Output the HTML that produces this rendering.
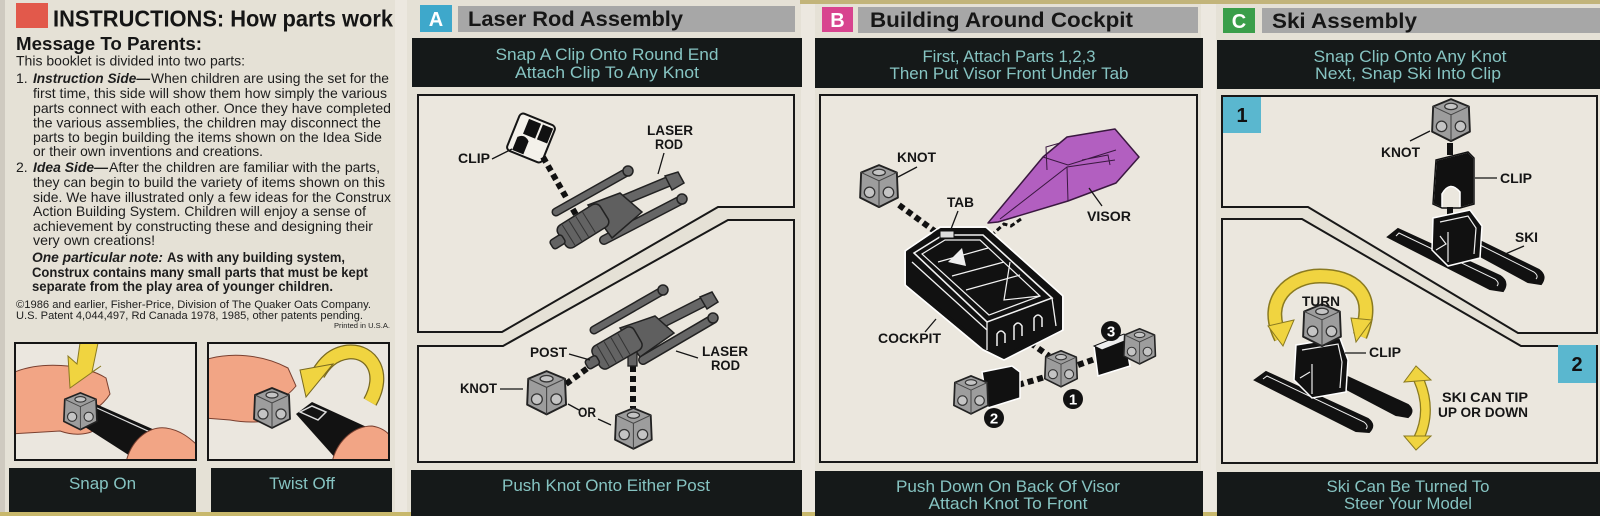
<!DOCTYPE html>
<html><head><meta charset="utf-8">
<style>
html,body{margin:0;padding:0;background:#e5e1d6;}
svg{display:block;}
.t{font-family:"Liberation Sans",Arial,sans-serif;}
.lab{font-family:"Liberation Sans",Arial,sans-serif;font-weight:bold;font-size:13.5px;fill:#151515;}
.teal{font-family:"Liberation Sans",Arial,sans-serif;font-size:17px;fill:#86c4c2;}
.ttl{font-family:"Liberation Sans",Arial,sans-serif;font-weight:bold;font-size:21px;fill:#161616;}
.body{font-family:"Liberation Sans",Arial,sans-serif;font-size:14px;fill:#1d1d1d;}
</style></head>
<body>
<svg width="1600" height="516" viewBox="0 0 1600 516" xmlns="http://www.w3.org/2000/svg">
<!-- page -->
<rect x="0" y="0" width="1600" height="516" fill="#e5e1d6"/>
<rect x="0" y="0" width="5" height="516" fill="#cfcac0"/>
<rect x="395" y="0" width="12" height="516" fill="#ece8e0"/>
<rect x="801" y="0" width="14" height="516" fill="#ece8e0"/>
<rect x="1201" y="0" width="15" height="516" fill="#ece8e0"/>
<rect x="800" y="0" width="800" height="4" fill="#c2b47a"/>
<rect x="0" y="512" width="1600" height="4" fill="#c8b86c"/>

<!-- ================= LEFT PANEL ================= -->
<rect x="16" y="3" width="32" height="25" fill="#e2594b"/>
<text class="t" x="53" y="26.5" font-size="23.5" font-weight="bold" fill="#151515" textLength="340" lengthAdjust="spacingAndGlyphs">INSTRUCTIONS: How parts work</text>
<text class="t" x="16" y="50" font-size="18.5" font-weight="bold" fill="#151515" textLength="186" lengthAdjust="spacingAndGlyphs">Message To Parents:</text>

<text class="body" x="16" y="65.5" textLength="229" lengthAdjust="spacingAndGlyphs">This booklet is divided into two parts:</text>
<text class="body" x="16" y="83">1.</text>
<text class="body" x="33" y="83" font-weight="bold" font-style="italic" textLength="117" lengthAdjust="spacingAndGlyphs">Instruction Side—</text>
<text class="body" x="151" y="83" textLength="238" lengthAdjust="spacingAndGlyphs">When children are using the set for the</text>
<text class="body" x="33" y="98" textLength="354" lengthAdjust="spacingAndGlyphs">first time, this side will show them how simply the various</text>
<text class="body" x="33" y="113" textLength="358" lengthAdjust="spacingAndGlyphs">parts connect with each other. Once they have completed</text>
<text class="body" x="33" y="127.5" textLength="348" lengthAdjust="spacingAndGlyphs">the various assemblies, the children may disconnect the</text>
<text class="body" x="33" y="142" textLength="349" lengthAdjust="spacingAndGlyphs">parts to begin building the items shown on the Idea Side</text>
<text class="body" x="33" y="156" textLength="230" lengthAdjust="spacingAndGlyphs">or their own inventions and creations.</text>
<text class="body" x="16" y="172">2.</text>
<text class="body" x="33" y="172" font-weight="bold" font-style="italic" textLength="75" lengthAdjust="spacingAndGlyphs">Idea Side—</text>
<text class="body" x="109" y="172" textLength="271" lengthAdjust="spacingAndGlyphs">After the children are familiar with the parts,</text>
<text class="body" x="33" y="187" textLength="352" lengthAdjust="spacingAndGlyphs">they can begin to build the variety of items shown on this</text>
<text class="body" x="33" y="202" textLength="358" lengthAdjust="spacingAndGlyphs">side. We have illustrated only a few ideas for the Construx</text>
<text class="body" x="33" y="216" textLength="333" lengthAdjust="spacingAndGlyphs">Action Building System. Children will enjoy a sense of</text>
<text class="body" x="33" y="231" textLength="340" lengthAdjust="spacingAndGlyphs">achievement by constructing these and designing their</text>
<text class="body" x="33" y="245" textLength="122" lengthAdjust="spacingAndGlyphs">very own creations!</text>
<text class="body" x="32" y="262" font-weight="bold" font-style="italic" textLength="131" lengthAdjust="spacingAndGlyphs">One particular note:</text>
<text class="body" x="167" y="262" font-weight="bold" textLength="178" lengthAdjust="spacingAndGlyphs">As with any building system,</text>
<text class="body" x="32" y="277" font-weight="bold" textLength="336" lengthAdjust="spacingAndGlyphs">Construx contains many small parts that must be kept</text>
<text class="body" x="32" y="291" font-weight="bold" textLength="301" lengthAdjust="spacingAndGlyphs">separate from the play area of younger children.</text>
<text class="t" x="16" y="308" font-size="11" fill="#1d1d1d" textLength="355" lengthAdjust="spacingAndGlyphs">©1986 and earlier, Fisher-Price, Division of The Quaker Oats Company.</text>
<text class="t" x="16" y="319" font-size="11" fill="#1d1d1d" textLength="347" lengthAdjust="spacingAndGlyphs">U.S. Patent 4,044,497, Rd Canada 1978, 1985, other patents pending.</text>
<text class="t" x="334" y="328" font-size="7.5" fill="#1d1d1d" textLength="56" lengthAdjust="spacingAndGlyphs">Printed in U.S.A.</text>

<!-- frame 1 : Snap On -->
<clipPath id="cf1"><rect x="16" y="344" width="179" height="115"/></clipPath>
<clipPath id="cf2"><rect x="209" y="344" width="179" height="115"/></clipPath>
<rect x="15" y="343" width="181" height="117" fill="#ebe7df" stroke="#151515" stroke-width="2"/>
<g clip-path="url(#cf1)">
  <path d="M10 374 C40 360 84 364 106 378 L110 394 C104 404 96 408 90 414 L100 424 C94 436 74 436 60 431 L10 434 Z" fill="#f2a585" stroke="#7a4030" stroke-width="1"/>
  <path d="M74 420 L96 404 L200 450 L200 470 L152 470 Z" fill="#121212"/>
  <path d="M82 418 L97 408 L190 450" fill="none" stroke="#ddd" stroke-width="1.2"/>
  <path d="M126 462 C132 438 150 426 166 428 C180 430 190 438 198 446 L198 466 Z" fill="#f2a585" stroke="#7a4030" stroke-width="1"/>
  <g transform="translate(62,391) scale(0.92)">
    <path d="M20 2L37 9L38 33L20 42L2 33L3 9Z" fill="#9d9d9d" stroke="#222" stroke-width="1.8" stroke-linejoin="round"/><path d="M3 9L20 17L37 9M20 17V42" fill="none" stroke="#444" stroke-width="1"/><ellipse cx="20" cy="9" rx="6" ry="3" fill="#c4c4c4" stroke="#333" stroke-width="1.2"/><circle cx="11" cy="28" r="5" fill="#c4c4c4" stroke="#333" stroke-width="1.2"/><circle cx="29" cy="28" r="5" fill="#c4c4c4" stroke="#333" stroke-width="1.2"/>
  </g>
  <path d="M80 343 L98 343 L92 372 L101 366 L70 388 L68 356 L77 364 Z" fill="#f0d440" stroke="#8a7a20" stroke-width="1"/>
</g>
<!-- frame 2 : Twist Off -->
<rect x="208" y="343" width="181" height="117" fill="#ebe7df" stroke="#151515" stroke-width="2"/>
<g clip-path="url(#cf2)">
  <path d="M204 360 C230 352 262 354 288 368 L296 386 C288 396 280 400 274 405 L284 413 C274 424 246 423 230 420 L204 418 Z" fill="#f2a585" stroke="#7a4030" stroke-width="1"/>
  <path d="M296 414 L312 402 L395 440 L395 470 L346 470 Z" fill="#121212"/>
  <path d="M300 412 L312 406 L326 412 L318 420 Z" fill="none" stroke="#ddd" stroke-width="1.5"/>
  <path d="M332 462 C338 438 356 426 372 426 C384 428 390 434 392 440 L392 466 Z" fill="#f2a585" stroke="#7a4030" stroke-width="1"/>
  <g transform="translate(252,386) scale(1.0)">
    <path d="M20 2L37 9L38 33L20 42L2 33L3 9Z" fill="#9d9d9d" stroke="#222" stroke-width="1.8" stroke-linejoin="round"/><path d="M3 9L20 17L37 9M20 17V42" fill="none" stroke="#444" stroke-width="1"/><ellipse cx="20" cy="9" rx="6" ry="3" fill="#c4c4c4" stroke="#333" stroke-width="1.2"/><circle cx="11" cy="28" r="5" fill="#c4c4c4" stroke="#333" stroke-width="1.2"/><circle cx="29" cy="28" r="5" fill="#c4c4c4" stroke="#333" stroke-width="1.2"/>
  </g>
  <path d="M370 402 C386 374 372 350 348 352 C332 354 324 364 318 374" fill="none" stroke="#7a6a20" stroke-width="15"/>
  <path d="M370 402 C386 374 372 350 348 352 C332 354 324 364 318 374" fill="none" stroke="#f0d440" stroke-width="12.5"/>
  <path d="M300 370 L333 364 L306 397 Z" fill="#f0d440" stroke="#7a6a20" stroke-width="1"/>
</g>
<rect x="9" y="468" width="187" height="44" fill="#151919"/>
<rect x="211" y="468" width="181" height="44" fill="#151919"/>
<text class="teal" x="102.5" y="489" text-anchor="middle">Snap On</text>
<text class="teal" x="302" y="489" text-anchor="middle">Twist Off</text>

<!-- ================= PANEL A ================= -->
<rect x="420" y="5" width="32" height="27" fill="#3ea8cb"/>
<text class="t" x="436" y="26" font-size="20" font-weight="bold" fill="#fff" text-anchor="middle">A</text>
<rect x="458" y="6" width="337" height="26" fill="#a7a7a7"/>
<text class="ttl" x="468" y="26" textLength="215" lengthAdjust="spacingAndGlyphs">Laser Rod Assembly</text>
<rect x="412" y="38" width="390" height="49" fill="#151919"/>
<text class="teal" x="607" y="60" text-anchor="middle" textLength="223" lengthAdjust="spacingAndGlyphs">Snap A Clip Onto Round End</text>
<text class="teal" x="607" y="78" text-anchor="middle" textLength="184" lengthAdjust="spacingAndGlyphs">Attach Clip To Any Knot</text>

<path d="M418 95 L794 95 L794 207 L718 207 L502 332 L418 332 Z" fill="#ebe7de" stroke="#181818" stroke-width="2"/>
<path d="M418 346 L503 346 L728 220 L794 220 L794 462 L418 462 Z" fill="#ebe7de" stroke="#181818" stroke-width="2"/>

<!-- A upper drawing -->
<g transform="rotate(22 531 138)">
  <rect x="512" y="118" width="38" height="40" rx="4" fill="#f4f1ea" stroke="#151515" stroke-width="2"/>
  <rect x="522" y="121" width="13" height="16" fill="#111"/>
  <rect x="537" y="121" width="11" height="16" fill="#111"/>
  <path d="M518 156 L518 142 Q524 136 530 142 L530 156 Z" fill="#111"/>
</g>
<line x1="543" y1="157" x2="579" y2="220" stroke="#111" stroke-width="6" stroke-dasharray="6 4"/>
<g stroke="#222" stroke-linecap="round">
  <line x1="556" y1="212" x2="627" y2="172" stroke-width="9"/>
  <line x1="556" y1="212" x2="627" y2="172" stroke="#666" stroke-width="6"/>
  <line x1="585" y1="216" x2="672" y2="180" stroke-width="11"/>
  <line x1="585" y1="216" x2="672" y2="180" stroke="#666" stroke-width="8"/>
  <line x1="604" y1="240" x2="681" y2="200" stroke-width="10"/>
  <line x1="604" y1="240" x2="681" y2="200" stroke="#666" stroke-width="7"/>
</g>
<circle cx="628" cy="171" r="5" fill="#666" stroke="#222" stroke-width="1.5"/>
<path d="M665 176 L678 172 L684 183 L672 190 Z" fill="#666" stroke="#222" stroke-width="1.5"/>
<circle cx="682" cy="199" r="5" fill="#666" stroke="#222" stroke-width="1.5"/>
<path d="M588 205 L620 193 L642 212 L612 238 Z" fill="#5f5f5f" stroke="#222" stroke-width="1.5"/>
<g transform="rotate(-32 583 226)">
  <rect x="558" y="213" width="50" height="26" rx="6" fill="#636363" stroke="#222" stroke-width="1.5"/>
  <line x1="566" y1="214" x2="566" y2="238" stroke="#333"/>
  <line x1="574" y1="214" x2="574" y2="238" stroke="#333"/>
  <line x1="582" y1="214" x2="582" y2="238" stroke="#333"/>
  <line x1="590" y1="214" x2="590" y2="238" stroke="#333"/>
  <rect x="546" y="221" width="14" height="10" rx="3" fill="#636363" stroke="#222" stroke-width="1.5"/>
</g>
<text class="lab" x="458" y="163" textLength="32" lengthAdjust="spacingAndGlyphs">CLIP</text>
<line x1="492" y1="159" x2="512" y2="149" stroke="#151515" stroke-width="1.3"/>
<text class="lab" x="647" y="135" textLength="46" lengthAdjust="spacingAndGlyphs">LASER</text>
<text class="lab" x="655" y="149" textLength="28" lengthAdjust="spacingAndGlyphs">ROD</text>
<line x1="664" y1="153" x2="658" y2="174" stroke="#151515" stroke-width="1.3"/>

<!-- A lower drawing -->
<line x1="566" y1="384" x2="596" y2="362" stroke="#111" stroke-width="6" stroke-dasharray="6 4"/>
<line x1="633" y1="366" x2="633" y2="408" stroke="#111" stroke-width="6" stroke-dasharray="6 4"/>
<g stroke="#222" stroke-linecap="round">
  <line x1="594" y1="330" x2="662" y2="291" stroke-width="9"/>
  <line x1="594" y1="330" x2="662" y2="291" stroke="#666" stroke-width="6"/>
  <line x1="632" y1="338" x2="707" y2="300" stroke-width="11"/>
  <line x1="632" y1="338" x2="707" y2="300" stroke="#666" stroke-width="8"/>
  <line x1="643" y1="360" x2="713" y2="319" stroke-width="10"/>
  <line x1="643" y1="360" x2="713" y2="319" stroke="#666" stroke-width="7"/>
</g>
<circle cx="663" cy="290" r="5" fill="#666" stroke="#222" stroke-width="1.5"/>
<path d="M700 297 L712 292 L718 302 L707 309 Z" fill="#666" stroke="#222" stroke-width="1.5"/>
<circle cx="713" cy="318" r="5" fill="#666" stroke="#222" stroke-width="1.5"/>
<path d="M620 328 L655 316 L674 333 L640 357 Z" fill="#5f5f5f" stroke="#222" stroke-width="1.5"/>
<rect x="628" y="350" width="9" height="16" fill="#636363" stroke="#222" stroke-width="1.3"/>
<g transform="rotate(-30 617 348)">
  <rect x="593" y="335" width="48" height="26" rx="6" fill="#636363" stroke="#222" stroke-width="1.5"/>
  <line x1="601" y1="336" x2="601" y2="360" stroke="#333"/>
  <line x1="609" y1="336" x2="609" y2="360" stroke="#333"/>
  <line x1="617" y1="336" x2="617" y2="360" stroke="#333"/>
  <line x1="625" y1="336" x2="625" y2="360" stroke="#333"/>
  <rect x="582" y="343" width="13" height="10" rx="3" fill="#636363" stroke="#222" stroke-width="1.5"/>
</g>
<g transform="translate(525,369) scale(1.08)">
  <path d="M20 2L37 9L38 33L20 42L2 33L3 9Z" fill="#9d9d9d" stroke="#222" stroke-width="1.8" stroke-linejoin="round"/><path d="M3 9L20 17L37 9M20 17V42" fill="none" stroke="#444" stroke-width="1"/><ellipse cx="20" cy="9" rx="6" ry="3" fill="#c4c4c4" stroke="#333" stroke-width="1.2"/><circle cx="11" cy="28" r="5" fill="#c4c4c4" stroke="#333" stroke-width="1.2"/><circle cx="29" cy="28" r="5" fill="#c4c4c4" stroke="#333" stroke-width="1.2"/>
</g>
<g transform="translate(613,406) scale(1.02)">
  <path d="M20 2L37 9L38 33L20 42L2 33L3 9Z" fill="#9d9d9d" stroke="#222" stroke-width="1.8" stroke-linejoin="round"/><path d="M3 9L20 17L37 9M20 17V42" fill="none" stroke="#444" stroke-width="1"/><ellipse cx="20" cy="9" rx="6" ry="3" fill="#c4c4c4" stroke="#333" stroke-width="1.2"/><circle cx="11" cy="28" r="5" fill="#c4c4c4" stroke="#333" stroke-width="1.2"/><circle cx="29" cy="28" r="5" fill="#c4c4c4" stroke="#333" stroke-width="1.2"/>
</g>
<text class="lab" x="530" y="357" textLength="37" lengthAdjust="spacingAndGlyphs">POST</text>
<line x1="569" y1="354" x2="590" y2="360" stroke="#151515" stroke-width="1.3"/>
<text class="lab" x="702" y="356" textLength="46" lengthAdjust="spacingAndGlyphs">LASER</text>
<text class="lab" x="711" y="370" textLength="29" lengthAdjust="spacingAndGlyphs">ROD</text>
<line x1="676" y1="351" x2="698" y2="358" stroke="#151515" stroke-width="1.3"/>
<text class="lab" x="460" y="393" textLength="37" lengthAdjust="spacingAndGlyphs">KNOT</text>
<line x1="500" y1="389" x2="523" y2="389" stroke="#151515" stroke-width="1.3"/>
<text class="lab" x="578" y="417" textLength="18" lengthAdjust="spacingAndGlyphs">OR</text>
<line x1="568" y1="404" x2="579" y2="410" stroke="#151515" stroke-width="1.3"/>
<line x1="598" y1="419" x2="611" y2="425" stroke="#151515" stroke-width="1.3"/>

<rect x="411" y="470" width="391" height="46" fill="#151919"/>
<text class="teal" x="606" y="491" text-anchor="middle" textLength="208" lengthAdjust="spacingAndGlyphs">Push Knot Onto Either Post</text>

<!-- ================= PANEL B ================= -->
<rect x="822" y="7" width="31" height="25" fill="#d8448f"/>
<text class="t" x="837.5" y="27" font-size="20" font-weight="bold" fill="#fff" text-anchor="middle">B</text>
<rect x="858" y="7" width="340" height="26" fill="#a7a7a7"/>
<text class="ttl" x="870" y="27" textLength="263" lengthAdjust="spacingAndGlyphs">Building Around Cockpit</text>
<rect x="815" y="38" width="388" height="50" fill="#151919"/>
<text class="teal" x="1009" y="62" text-anchor="middle" textLength="173" lengthAdjust="spacingAndGlyphs">First, Attach Parts 1,2,3</text>
<text class="teal" x="1009" y="79" text-anchor="middle" textLength="239" lengthAdjust="spacingAndGlyphs">Then Put Visor Front Under Tab</text>
<rect x="820" y="95" width="377" height="367" fill="#ebe7de" stroke="#181818" stroke-width="2"/>

<!-- dashed connectors -->
<line x1="899" y1="205" x2="944" y2="238" stroke="#111" stroke-width="6" stroke-dasharray="6 4"/>
<line x1="1022" y1="337" x2="1049" y2="356" stroke="#111" stroke-width="6" stroke-dasharray="6 4"/>
<line x1="1018" y1="385" x2="1045" y2="377" stroke="#111" stroke-width="6" stroke-dasharray="6 4"/>
<line x1="1078" y1="365" x2="1098" y2="358" stroke="#111" stroke-width="6" stroke-dasharray="6 4"/>
<path d="M1021 219 L1011 226 L1004 224 L994 233" fill="none" stroke="#111" stroke-width="3" stroke-dasharray="5 3"/>

<!-- cockpit -->
<path d="M908 252 L941 230 L985 230 L1060 297 L1060 329 L1004 357 L984 347 L908 284 Z" fill="#111" stroke="#111" stroke-width="4" stroke-linejoin="round"/>
<path d="M905 251 L940 227 L986 227 L1063 296 L1063 330 L1004 360 L983 350 L905 285 Z" fill="none" stroke="#fff" stroke-width="1.5"/>
<path d="M914 253 L943 235 L983 235 L1052 298 L987 322 Z" fill="none" stroke="#f2f2f2" stroke-width="1.6"/>
<path d="M922 254 L945 240 L980 240 L1040 296 L989 315 Z" fill="none" stroke="#f2f2f2" stroke-width="1.2"/>
<path d="M987 322 L987 350 M912 262 L987 330 M1052 298 L1056 326" fill="none" stroke="#f2f2f2" stroke-width="1.3"/>
<path d="M938 262 L988 248 M952 276 L1004 262 M966 290 L1020 275 M1010 262 L1004 300 L1040 296" fill="none" stroke="#f2f2f2" stroke-width="1.2"/>
<path d="M997 346 V334 Q1001 328 1005 334 V343 M1014 340 V326 Q1018 320 1022 326 V336 M1034 331 V318 Q1038 312 1042 318 V327" fill="none" stroke="#f2f2f2" stroke-width="1.5"/>
<path d="M940 231 L940 238 L954 238 L954 231 Z" fill="#ddd" stroke="#111" stroke-width="1"/>
<path d="M948 262 L962 248 L966 266 Z" fill="#eee"/>

<!-- visor -->
<path d="M988 223 L1043 157 L1067 137 L1115 129 L1139 157 L1116 183 L1068 201 L998 222 Z" fill="#b25fc0" stroke="#3a1840" stroke-width="1.5" stroke-linejoin="round"/>
<path d="M1000 219 L1067 167 L1115 160 M1043 157 L1068 165 L1116 150 M1067 167 L1068 201 M1047 170 L1046 147 L1060 143 M1082 160 L1108 155 L1110 165" fill="none" stroke="#3a1840" stroke-width="1"/>

<!-- knots B -->
<g transform="translate(858,163) scale(1.05)">
  <path d="M20 2L37 9L38 33L20 42L2 33L3 9Z" fill="#9d9d9d" stroke="#222" stroke-width="1.8" stroke-linejoin="round"/><path d="M3 9L20 17L37 9M20 17V42" fill="none" stroke="#444" stroke-width="1"/><ellipse cx="20" cy="9" rx="6" ry="3" fill="#c4c4c4" stroke="#333" stroke-width="1.2"/><circle cx="11" cy="28" r="5" fill="#c4c4c4" stroke="#333" stroke-width="1.2"/><circle cx="29" cy="28" r="5" fill="#c4c4c4" stroke="#333" stroke-width="1.2"/>
</g>
<g transform="translate(1043,349) scale(0.9)">
  <path d="M20 2L37 9L38 33L20 42L2 33L3 9Z" fill="#9d9d9d" stroke="#222" stroke-width="1.8" stroke-linejoin="round"/><path d="M3 9L20 17L37 9M20 17V42" fill="none" stroke="#444" stroke-width="1"/><ellipse cx="20" cy="9" rx="6" ry="3" fill="#c4c4c4" stroke="#333" stroke-width="1.2"/><circle cx="11" cy="28" r="5" fill="#c4c4c4" stroke="#333" stroke-width="1.2"/><circle cx="29" cy="28" r="5" fill="#c4c4c4" stroke="#333" stroke-width="1.2"/>
</g>
<!-- part 3 -->
<path d="M1094 346 L1124 334 L1130 366 L1098 376 Z" fill="#111" stroke="#fff" stroke-width="1.5"/>
<path d="M1094 346 L1124 334 L1132 338 L1102 350 Z" fill="#eee" stroke="#111" stroke-width="1"/>
<g transform="translate(1122,327) scale(0.88)">
  <path d="M20 2L37 9L38 33L20 42L2 33L3 9Z" fill="#9d9d9d" stroke="#222" stroke-width="1.8" stroke-linejoin="round"/><path d="M3 9L20 17L37 9M20 17V42" fill="none" stroke="#444" stroke-width="1"/><ellipse cx="20" cy="9" rx="6" ry="3" fill="#c4c4c4" stroke="#333" stroke-width="1.2"/><circle cx="11" cy="28" r="5" fill="#c4c4c4" stroke="#333" stroke-width="1.2"/><circle cx="29" cy="28" r="5" fill="#c4c4c4" stroke="#333" stroke-width="1.2"/>
</g>
<!-- part 2 -->
<path d="M982 372 L1012 366 L1020 372 L1020 398 L988 408 Z" fill="#111" stroke="#fff" stroke-width="1.5"/>
<g transform="translate(952,374) scale(0.95)">
  <path d="M20 2L37 9L38 33L20 42L2 33L3 9Z" fill="#9d9d9d" stroke="#222" stroke-width="1.8" stroke-linejoin="round"/><path d="M3 9L20 17L37 9M20 17V42" fill="none" stroke="#444" stroke-width="1"/><ellipse cx="20" cy="9" rx="6" ry="3" fill="#c4c4c4" stroke="#333" stroke-width="1.2"/><circle cx="11" cy="28" r="5" fill="#c4c4c4" stroke="#333" stroke-width="1.2"/><circle cx="29" cy="28" r="5" fill="#c4c4c4" stroke="#333" stroke-width="1.2"/>
</g>
<!-- number circles -->
<circle cx="1111" cy="331" r="10" fill="#111"/>
<text class="t" x="1111" y="336.5" font-size="15" font-weight="bold" fill="#fff" text-anchor="middle">3</text>
<circle cx="1073" cy="399" r="10" fill="#111"/>
<text class="t" x="1073" y="404.5" font-size="15" font-weight="bold" fill="#fff" text-anchor="middle">1</text>
<circle cx="994" cy="418" r="10" fill="#111"/>
<text class="t" x="994" y="423.5" font-size="15" font-weight="bold" fill="#fff" text-anchor="middle">2</text>

<text class="lab" x="897" y="162" textLength="39" lengthAdjust="spacingAndGlyphs">KNOT</text>
<line x1="917" y1="167" x2="898" y2="177" stroke="#151515" stroke-width="1.3"/>
<text class="lab" x="947" y="207" textLength="27" lengthAdjust="spacingAndGlyphs">TAB</text>
<line x1="958" y1="211" x2="951" y2="229" stroke="#151515" stroke-width="1.3"/>
<text class="lab" x="1087" y="221" textLength="44" lengthAdjust="spacingAndGlyphs">VISOR</text>
<line x1="1102" y1="206" x2="1089" y2="188" stroke="#151515" stroke-width="1.3"/>
<text class="lab" x="878" y="343" textLength="63" lengthAdjust="spacingAndGlyphs">COCKPIT</text>
<line x1="925" y1="332" x2="936" y2="319" stroke="#151515" stroke-width="1.3"/>

<rect x="815" y="471" width="388" height="45" fill="#151919"/>
<text class="teal" x="1008" y="492" text-anchor="middle" textLength="224" lengthAdjust="spacingAndGlyphs">Push Down On Back Of Visor</text>
<text class="teal" x="1008" y="509" text-anchor="middle" textLength="159" lengthAdjust="spacingAndGlyphs">Attach Knot To Front</text>

<!-- ================= PANEL C ================= -->
<rect x="1223" y="8" width="32" height="25" fill="#3a9e4a"/>
<text class="t" x="1239" y="28" font-size="20" font-weight="bold" fill="#fff" text-anchor="middle">C</text>
<rect x="1262" y="8" width="338" height="25" fill="#a7a7a7"/>
<text class="ttl" x="1272" y="28" textLength="145" lengthAdjust="spacingAndGlyphs">Ski Assembly</text>
<rect x="1217" y="40" width="383" height="49" fill="#151919"/>
<text class="teal" x="1410" y="62" text-anchor="middle" textLength="193" lengthAdjust="spacingAndGlyphs">Snap Clip Onto Any Knot</text>
<text class="teal" x="1408" y="79" text-anchor="middle" textLength="186" lengthAdjust="spacingAndGlyphs">Next, Snap Ski Into Clip</text>

<path d="M1222 96 L1597 96 L1597 333 L1518 333 L1308 207 L1222 207 Z" fill="#ebe7de" stroke="#181818" stroke-width="2"/>
<path d="M1222 219 L1302 219 L1521 346 L1597 346 L1597 463 L1222 463 Z" fill="#ebe7de" stroke="#181818" stroke-width="2"/>
<rect x="1223" y="97" width="38" height="36" fill="#5ab7cf"/>
<text class="t" x="1242" y="122" font-size="20" font-weight="bold" fill="#111" text-anchor="middle">1</text>
<rect x="1558" y="345" width="38" height="38" fill="#5ab7cf"/>
<text class="t" x="1577" y="371" font-size="20" font-weight="bold" fill="#111" text-anchor="middle">2</text>

<!-- C upper: knot, clip, skis -->
<rect x="1447" y="143" width="6" height="12" fill="#111"/>
<path d="M1436 160 L1468 152 L1474 158 L1474 204 L1460 208 L1460 192 Q1450 180 1442 194 L1442 208 L1433 204 Z" fill="#111" stroke="#fff" stroke-width="1.5"/>
<path d="M1436 160 L1468 152 L1474 158 L1474 204 L1460 208 L1442 208 L1433 204 Z" fill="none" stroke="#111" stroke-width="1.5"/>
<rect x="1447" y="207" width="6" height="10" fill="#111"/>
<g transform="translate(1430,97) scale(1.05)">
  <path d="M20 2L37 9L38 33L20 42L2 33L3 9Z" fill="#9d9d9d" stroke="#222" stroke-width="1.8" stroke-linejoin="round"/><path d="M3 9L20 17L37 9M20 17V42" fill="none" stroke="#444" stroke-width="1"/><ellipse cx="20" cy="9" rx="6" ry="3" fill="#c4c4c4" stroke="#333" stroke-width="1.2"/><circle cx="11" cy="28" r="5" fill="#c4c4c4" stroke="#333" stroke-width="1.2"/><circle cx="29" cy="28" r="5" fill="#c4c4c4" stroke="#333" stroke-width="1.2"/>
</g>
<path d="M1388 237 L1398 229 L1500 276 Q1509 282 1503 291 L1490 289 Z" fill="#111" stroke="#111" stroke-width="2"/>
<path d="M1396 236 L1399 233 L1495 279 Q1500 283 1497 286" fill="none" stroke="#eee" stroke-width="1"/>
<path d="M1436 232 L1447 225 L1539 270 Q1547 276 1541 284 L1528 282 Z" fill="#111" stroke="#111" stroke-width="2"/>
<path d="M1444 231 L1448 229 L1534 272 Q1539 276 1536 279" fill="none" stroke="#eee" stroke-width="1"/>
<path d="M1433 218 L1470 210 L1482 226 L1480 258 L1448 266 L1432 250 Z" fill="#111" stroke="#fff" stroke-width="1.5"/>
<path d="M1440 222 L1468 216 L1476 228 L1474 254 M1448 262 L1448 232 M1436 250 L1446 244 L1440 236" fill="none" stroke="#eee" stroke-width="1.2"/>
<text class="lab" x="1381" y="157" textLength="39" lengthAdjust="spacingAndGlyphs">KNOT</text>
<line x1="1410" y1="141" x2="1430" y2="131" stroke="#151515" stroke-width="1.3"/>
<text class="lab" x="1500" y="183" textLength="32" lengthAdjust="spacingAndGlyphs">CLIP</text>
<line x1="1475" y1="178" x2="1497" y2="178" stroke="#151515" stroke-width="1.3"/>
<text class="lab" x="1515" y="242" textLength="23" lengthAdjust="spacingAndGlyphs">SKI</text>
<line x1="1503" y1="255" x2="1524" y2="246" stroke="#151515" stroke-width="1.3"/>

<!-- C lower: turn arrow, knot, clip, skis -->
<path d="M1281 338 C1262 300 1290 276 1320 276 C1352 276 1378 292 1360 336" fill="none" stroke="#8a7a20" stroke-width="15"/>
<path d="M1281 338 C1262 300 1290 276 1320 276 C1352 276 1378 292 1360 336" fill="none" stroke="#f0d440" stroke-width="12"/>
<path d="M1268 326 L1294 320 L1283 346 Z" fill="#f0d440" stroke="#8a7a20" stroke-width="1"/>
<path d="M1351 318 L1372 320 L1356 342 Z" fill="#f0d440" stroke="#8a7a20" stroke-width="1"/>
<path d="M1255 380 L1266 372 L1368 419 Q1376 425 1369 432 L1356 431 Z" fill="#111" stroke="#111" stroke-width="2"/>
<path d="M1263 379 L1267 376 L1364 422 Q1369 426 1366 429" fill="none" stroke="#eee" stroke-width="1"/>
<path d="M1318 374 L1328 368 L1408 405 Q1415 411 1408 417 L1396 415 Z" fill="#111" stroke="#111" stroke-width="2"/>
<path d="M1296 345 L1340 338 L1348 360 L1346 392 L1312 398 L1294 380 Z" fill="#111" stroke="#fff" stroke-width="1.5"/>
<path d="M1302 350 L1338 344 L1342 362 L1340 388 M1312 394 L1312 364 M1300 378 L1310 372" fill="none" stroke="#eee" stroke-width="1.2"/>
<g transform="translate(1301,302) scale(1.05)">
  <path d="M20 2L37 9L38 33L20 42L2 33L3 9Z" fill="#9d9d9d" stroke="#222" stroke-width="1.8" stroke-linejoin="round"/><path d="M3 9L20 17L37 9M20 17V42" fill="none" stroke="#444" stroke-width="1"/><ellipse cx="20" cy="9" rx="6" ry="3" fill="#c4c4c4" stroke="#333" stroke-width="1.2"/><circle cx="11" cy="28" r="5" fill="#c4c4c4" stroke="#333" stroke-width="1.2"/><circle cx="29" cy="28" r="5" fill="#c4c4c4" stroke="#333" stroke-width="1.2"/>
</g>
<path d="M1418 378 C1428 400 1428 420 1418 440" fill="none" stroke="#8a7a20" stroke-width="11"/>
<path d="M1418 378 C1428 400 1428 420 1418 440" fill="none" stroke="#f0d440" stroke-width="8.5"/>
<path d="M1404 382 L1416 366 L1431 380 Z" fill="#f0d440" stroke="#8a7a20" stroke-width="1"/>
<path d="M1404 436 L1431 436 L1416 450 Z" fill="#f0d440" stroke="#8a7a20" stroke-width="1"/>
<text class="lab" x="1302" y="306" textLength="38" lengthAdjust="spacingAndGlyphs">TURN</text>
<text class="lab" x="1369" y="357" textLength="32" lengthAdjust="spacingAndGlyphs">CLIP</text>
<line x1="1345" y1="353" x2="1366" y2="353" stroke="#151515" stroke-width="1.3"/>
<text class="lab" x="1442" y="402" textLength="86" lengthAdjust="spacingAndGlyphs">SKI CAN TIP</text>
<text class="lab" x="1438" y="417" textLength="90" lengthAdjust="spacingAndGlyphs">UP OR DOWN</text>

<rect x="1217" y="472" width="383" height="44" fill="#151919"/>
<text class="teal" x="1408" y="492" text-anchor="middle" textLength="163" lengthAdjust="spacingAndGlyphs">Ski Can Be Turned To</text>
<text class="teal" x="1408" y="509" text-anchor="middle" textLength="128" lengthAdjust="spacingAndGlyphs">Steer Your Model</text>
</svg>
</body></html>
